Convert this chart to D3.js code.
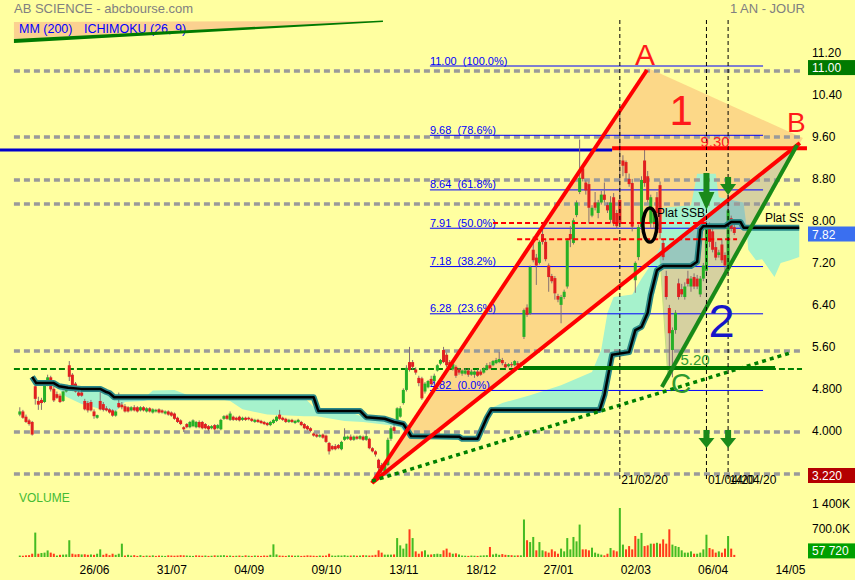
<!DOCTYPE html>
<html><head><meta charset="utf-8">
<script src="https://cdn.jsdelivr.net/npm/d3@7"></script>
<style>body{margin:0;background:#ffffa0;}svg{display:block;font-family:"Liberation Sans",Arial,sans-serif;}</style>
</head><body><svg id="c" width="855" height="580"></svg>
<script>
// ---------- DATA ----------
// daily candles [open, high, low, close]
const candles = [
[4.36,4.50,4.33,4.42],[4.42,4.45,4.28,4.30],[4.32,4.36,4.20,4.22],[4.25,4.28,4.15,4.18],[4.22,4.24,3.96,3.98],
[4.90,5.05,4.55,4.66],[4.62,4.70,4.45,4.55],[4.64,4.68,4.45,4.58],[4.60,4.95,4.58,4.92],[4.92,5.12,4.90,5.07],
[5.07,5.10,4.80,4.84],[4.85,4.90,4.60,4.63],[4.75,4.80,4.66,4.68],[4.72,4.76,4.58,4.60],[4.62,4.82,4.60,4.80],
[4.80,4.90,4.78,4.86],[5.30,5.38,5.00,5.08],[5.12,5.15,4.85,4.88],[4.95,4.98,4.78,4.80],[4.78,4.82,4.70,4.72],
[4.78,4.80,4.70,4.72],[4.62,4.66,4.44,4.46],[4.58,4.62,4.40,4.44],[4.60,4.64,4.42,4.44],[4.42,4.46,4.28,4.33],
[4.30,4.36,4.28,4.35],[4.62,4.80,4.44,4.46],[4.56,4.60,4.42,4.45],[4.48,4.52,4.42,4.44],[4.46,4.48,4.38,4.40],
[4.44,4.46,4.32,4.34],[4.34,4.44,4.32,4.42],[4.58,4.78,4.48,4.50],[4.55,4.60,4.46,4.50],[4.52,4.56,4.40,4.42],
[4.50,4.52,4.40,4.42],[4.44,4.52,4.42,4.50],[4.50,4.54,4.42,4.44],[4.50,4.52,4.40,4.42],[4.44,4.52,4.42,4.50],
[4.50,4.52,4.42,4.44],[4.42,4.50,4.40,4.48],[4.48,4.50,4.40,4.42],[4.40,4.48,4.38,4.46],[4.42,4.47,4.40,4.45],
[4.46,4.48,4.38,4.40],[4.44,4.46,4.38,4.40],[4.38,4.44,4.36,4.42],[4.42,4.44,4.34,4.36],[4.40,4.42,4.32,4.34],
[4.38,4.40,4.26,4.28],[4.30,4.32,4.20,4.22],[4.25,4.27,4.16,4.18],[4.12,4.14,4.03,4.08],[4.18,4.20,4.10,4.12],
[4.12,4.24,4.10,4.22],[4.14,4.27,4.12,4.25],[4.12,4.24,4.10,4.22],[4.22,4.25,4.10,4.12],[4.22,4.24,4.08,4.10],
[4.18,4.20,4.08,4.10],[4.14,4.16,4.05,4.08],[4.10,4.16,4.08,4.14],[4.16,4.18,4.06,4.08],[4.10,4.18,4.08,4.16],
[4.08,4.28,4.06,4.26],[4.28,4.35,4.26,4.33],[4.34,4.36,4.26,4.28],[4.26,4.42,4.24,4.38],[4.32,4.34,4.24,4.26],
[4.30,4.32,4.24,4.26],[4.32,4.34,4.23,4.25],[4.26,4.32,4.24,4.30],[4.30,4.32,4.24,4.26],[4.30,4.32,4.25,4.27],
[4.28,4.30,4.22,4.24],[4.22,4.28,4.20,4.26],[4.26,4.28,4.20,4.22],[4.24,4.26,4.18,4.20],[4.22,4.24,4.16,4.18],
[4.20,4.22,4.14,4.16],[4.16,4.24,4.14,4.22],[4.20,4.28,4.18,4.26],[4.24,4.34,4.22,4.32],[4.36,4.45,4.26,4.28],
[4.30,4.32,4.24,4.26],[4.28,4.30,4.20,4.22],[4.22,4.28,4.20,4.26],[4.26,4.28,4.20,4.22],[4.20,4.26,4.18,4.24],
[4.22,4.28,4.20,4.26],[4.22,4.24,4.14,4.16],[4.18,4.20,4.08,4.10],[4.14,4.16,4.06,4.08],[4.10,4.12,4.02,4.05],
[4.00,4.02,3.94,3.96],[3.98,4.00,3.92,3.94],[3.94,3.99,3.92,3.97],[3.98,4.00,3.90,3.92],[3.96,3.98,3.82,3.84],
[3.82,3.84,3.60,3.66],[3.76,3.78,3.68,3.70],[3.76,3.80,3.68,3.70],[3.78,3.80,3.70,3.72],[3.70,3.86,3.68,3.84],
[3.88,4.10,3.86,3.94],[3.90,3.96,3.88,3.94],[3.94,3.98,3.86,3.88],[3.88,3.96,3.86,3.94],[3.94,3.96,3.88,3.90],
[3.90,3.97,3.88,3.95],[3.94,3.96,3.86,3.88],[3.88,4.05,3.86,3.95],[3.90,3.92,3.70,3.72],[3.72,3.74,3.64,3.66],
[3.66,3.68,3.56,3.60],[3.50,3.52,3.26,3.34],[3.40,3.44,3.22,3.30],[3.28,3.44,3.26,3.40],[3.40,3.92,3.38,3.88],
[3.90,4.14,3.86,4.10],[4.12,4.16,4.00,4.05],[4.26,4.50,4.18,4.48],[4.32,4.52,4.30,4.48],[4.58,4.86,4.55,4.83],
[4.83,5.30,4.80,5.25],[5.36,5.65,5.18,5.21],[5.36,5.40,5.22,5.27],[5.22,5.26,5.12,5.16],[5.06,5.10,4.90,4.96],
[5.05,5.08,4.64,4.67],[4.80,4.98,4.76,4.95],[4.88,5.02,4.86,5.00],[5.04,5.10,4.92,4.94],[5.00,5.14,4.98,5.10],
[5.20,5.32,5.18,5.30],[5.33,5.42,5.30,5.40],[5.59,5.65,5.34,5.36],[5.50,5.54,5.26,5.30],[5.36,5.40,5.24,5.28],
[5.22,5.34,5.20,5.32],[5.27,5.30,5.06,5.10],[5.22,5.25,5.12,5.16],[5.14,5.22,5.10,5.20],[5.14,5.24,5.12,5.20],
[5.20,5.24,5.08,5.12],[5.12,5.22,5.10,5.18],[5.12,5.20,5.06,5.18],[5.18,5.22,5.08,5.10],[5.18,5.22,5.10,5.12],
[5.16,5.26,5.14,5.24],[5.22,5.34,5.20,5.30],[5.30,5.36,5.22,5.24],[5.30,5.40,5.28,5.38],[5.34,5.44,5.32,5.40],
[5.36,5.55,5.34,5.42],[5.40,5.44,5.30,5.34],[5.32,5.36,5.24,5.26],[5.28,5.34,5.26,5.32],[5.32,5.36,5.26,5.30],
[5.30,5.40,5.28,5.38],[5.34,5.38,5.26,5.30],[5.30,5.36,5.26,5.32],[5.84,6.38,5.80,6.35],[6.40,6.46,6.22,6.26],
[6.29,7.20,6.26,7.17],[7.50,7.75,7.26,7.30],[7.35,7.42,6.83,7.20],[7.25,7.68,7.22,7.65],[7.80,7.90,7.60,7.65],
[7.65,7.70,7.28,7.32],[7.20,7.24,6.70,6.98],[7.00,7.04,6.86,6.90],[6.96,7.00,6.55,6.67],[6.62,6.66,6.50,6.55],
[6.45,6.64,6.10,6.60],[6.60,6.74,6.56,6.70],[6.80,7.72,6.76,7.68],[7.80,7.95,7.55,7.70],[7.63,8.10,7.60,8.06],
[8.16,8.44,8.12,8.40],[8.60,9.60,8.56,8.87],[9.05,9.10,8.80,8.85],[8.78,8.82,8.55,8.63],[8.75,8.80,8.00,8.30],
[8.15,8.35,8.12,8.30],[8.40,8.60,8.25,8.30],[8.20,8.45,8.10,8.40],[8.40,8.62,8.36,8.55],[8.55,8.78,8.40,8.45],
[8.35,8.40,8.20,8.25],[8.07,8.52,8.00,8.40],[8.50,8.58,7.95,8.00],[8.20,8.26,7.90,7.95],[8.45,10.07,7.98,8.00],
[9.20,9.30,8.90,9.10],[9.17,9.20,8.80,8.96],[8.85,8.95,8.70,8.75],[8.77,8.85,7.85,7.94],[6.92,7.28,6.68,7.25],
[7.36,7.98,7.30,7.93],[7.93,8.90,7.88,8.83],[9.20,9.40,8.70,8.77],[8.90,9.00,8.40,8.45],[8.00,8.55,7.90,8.50],
[8.00,8.26,7.90,8.20],[8.50,8.60,8.15,8.20],[8.73,8.80,7.70,7.82],[7.63,7.70,7.30,7.36],[7.00,7.10,6.55,6.60],
[6.39,6.45,5.07,5.91],[5.59,6.02,5.07,5.97],[5.97,6.35,5.90,6.30],[6.86,6.95,6.55,6.60],[6.75,6.85,6.60,6.65],
[6.60,6.88,6.55,6.80],[6.95,7.10,6.80,6.85],[6.80,7.00,6.70,6.95],[6.98,7.05,6.75,6.80],[6.95,7.02,6.75,6.80],
[6.65,7.00,6.60,6.95],[6.95,7.25,6.90,7.20],[7.10,8.05,7.05,8.00],[7.96,8.02,7.55,7.65],[7.85,7.92,7.45,7.50],
[7.55,7.65,7.30,7.35],[7.40,7.50,7.35,7.45],[7.60,7.70,7.25,7.30],[7.40,7.45,7.10,7.20],[7.17,8.60,7.12,8.25],
[8.10,8.15,7.85,7.90],[7.93,8.00,7.78,7.82]
];
// daily volumes, thousands of shares
const volumesK = [
40,35,45,50,90,670,90,110,120,180, 120,90,40,60,65,70,460,90,70,80,
70,75,60,70,60,90,210,60,90,50, 90,60,90,366,40,60,40,50,30,50,
30,40,35,45,30,40,35,30,45,40, 35,40,50,45,40,35,30,45,40,35,
40,30,35,45,40,45,50,35,40,30, 35,40,30,45,35,30,40,35,30,40,
35,60,348,70,40,35,30,45,40,35, 40,30,35,45,40,35,30,40,35,40,
90,40,35,45,40,50,35,40,45,35, 40,50,45,40,45,60,183,120,65,65,
65,70,520,320,230,366,760,520,155,90, 155,183,65,70,80,90,80,183,230,120,
90,100,70,40,35,30,40,35,30,40, 45,50,275,70,90,60,80,60,55,50,
40,45,45, 1030,460,410,550,183,410,183,155,
120,210,155,90,230,155,520,210,550,430, 890,210,210,183,256,120,90,65,45,90,
247,183,155,1345,340,210,300,210,576,500, 660,300,320,366,366,390,366,485,366,760,
340,300,275,183,120,120,155,90,90,120, 210,612,247,210,120,155,120,230,576,230,
57.72
];
const dateTickIndex = [24,49,74,99,124,149,174,199,224,249];
const dateTickLabels = ["26/06","31/07","04/09","09/10","13/11","18/12","27/01","02/03","06/04","14/05"];
const priceTicks = [11.2,10.4,9.6,8.8,8.0,7.2,6.4,5.6,4.8,4.0];
const priceTickLabels = ["11.20","10.40","9.60","8.80","8.00","7.20","6.40","5.60","4.800","4.000"];
const volTicks = [1400000,700000];
const volTickLabels = ["1 400K","700.0K"];
const fibLevels = [11.00,9.68,8.64,7.91,7.18,6.28,4.82];
const fibPct = ["100.0%","78.6%","61.8%","50.0%","38.2%","23.6%","0.0%"];
const fibSpan = [132.6,240.3];
const grayLevels = [10.905,9.648,8.829,8.371,5.571,4.029,3.229];
const hSpan = [-1.9,252.9];
const greenDashLevel = 5.23;
// Ichimoku: thick line (SSB) knots [dayIndex, price]
const ssb = [[4,5.08],[5.3,4.96],[11,4.96],[12.7,4.90],[15.6,4.87],[19.8,4.85],[26,4.85],[28,4.79],[29,4.77],[30.5,4.69],
[95,4.69],[96.5,4.43],[110,4.43],[112,4.31],[118,4.28],[121,4.22],[124,4.18],[125.5,4.05],[126.5,3.95],[142,3.94],
[143,3.90],[148,3.90],[151,4.30],[152.5,4.45],[187.5,4.45],[189,4.73],[191.5,5.50],[197,5.55],[199,5.97],[201,6.03],
[203,6.30],[204,6.64],[206,7.11],[208,7.19],[217,7.19],[219,7.27],[220,7.88],[221,7.95],[228,7.95],[230,8.03],
[233,8.03],[234,7.92],[252,7.92]];
// Ichimoku cloud knots [dayIndex, upper, lower]
const cloud = [[12,4.90,4.88],[15,4.88,4.70],[20,4.86,4.56],[24,4.80,4.50],[27,4.78,4.45],[31,4.72,4.42],[34,4.68,4.60],
[40,4.66,4.62],[43,4.82,4.66],[50,4.83,4.64],[54,4.74,4.66],[62,4.72,4.68],[68,4.72,4.62],[72,4.71,4.46],[80,4.70,4.36],
[92,4.68,4.33],[96,4.45,4.33],[105,4.44,4.24],[111,4.32,4.22],[119,4.28,4.16],[123,4.20,4.12],[126,3.96,3.92],
[147,3.90,3.86],[150,4.20,4.10],[153,4.50,4.42],[156,4.58,4.45],[165,4.73,4.45],[175,4.92,4.45],[185,5.17,4.45],
[188,5.60,4.45],[190,6.30,4.80],[192,6.60,5.50],[198,6.65,5.60],[201,6.95,6.03],[205,7.30,6.64],[207,7.55,7.15],
[208,8.30,7.19],[217,8.35,7.19],[219,8.95,7.27],[220,8.95,7.88],[225,8.95,7.95],[226,8.50,7.95],[234,8.40,7.92],
[235,7.92,7.92],[235.5,7.92,7.50],[238,7.92,7.30],[240,7.92,7.32],[244,7.92,6.98],[246,7.92,7.25],[249,7.92,7.30],[252,7.92,7.36]];
// hand-drawn annotations, in [dayIndex, price]
const legendTri = [[-1.9,11.838],[117.4,11.857],[-1.9,11.476]];
const legendWedge = [[-1.9,11.514],[117.4,11.867],[117.4,11.838],[-1.9,11.438]];
const peachTri = [[113.87,3.057],[203.1,10.962],[253.2,9.629],[252.2,9.533]];
const lineA = [[113.87,3.057],[202.78,10.924]];
const lineB = [[113.87,3.057],[252.2,9.533]];
const line930 = [[191.5,9.432],[254.5,9.432]];
const blueLine = [[-6.4,9.40],[191.5,9.40]];
const redDash1 = [[153.0,8.01],[222.2,8.01]];
const redDash2 = [[160.8,7.70],[231.9,7.70]];
const green520 = [[162.7,5.248],[244.2,5.248]];
const greenDotted = [[113.87,3.095],[249.0,5.533]];
const lineCB = [[207.6,4.886],[251.3,9.495]];
const khakiTri = [[206.9,7.438],[209.6,5.019],[252.2,9.533]];
const ellipse0 = [203.7,7.971];
const markerIdx = [194,222,229];
const markerLabels = ["21/02/20","01/04/20","14/04/20"];
const arrowsDown = [[222,8.962,8.60,8.257],[229,8.886,8.752,8.543],[222,4.067,3.914,3.724],[229,4.067,3.914,3.724]];
const labels = [
 {t:"A",i:202.1,v:11.019,size:30,fill:"#ff1a1a",anchor:"middle"},
 {t:"B",i:251.1,v:9.743,size:28,fill:"#ff1a1a",anchor:"middle"},
 {t:"1",i:213.8,v:9.876,size:42,fill:"#ff1a1a",anchor:"middle"},
 {t:"2",i:226.9,v:5.838,size:47,fill:"#1515c8",anchor:"middle"},
 {t:"C",i:213.8,v:4.771,size:28,fill:"#2e9a2e",anchor:"middle"},
 {t:"9.30",i:224.8,v:9.457,size:15,fill:"#ff2020",anchor:"middle"},
 {t:"5.20",i:218.3,v:5.305,size:15,fill:"#2e9a2e",anchor:"middle"},
 {t:"Plat SSB",i:206.0,v:8.124,size:12,fill:"#000",anchor:"start"},
 {t:"Plat SSB",i:240.9,v:8.029,size:12,fill:"#000",anchor:"start",clip:true}
];
const badges = [{t:"11.00",v:10.97,fill:"#007a00"},{t:"7.82",v:7.80,fill:"#3a6ff0"},{t:"3.220",v:3.20,fill:"#b40000"}];
const lastVolume = 57720;

// ---------- CHART ----------
const W=855,H=580;
const svg=d3.select("#c");
const x=d3.scaleLinear().domain([0,249]).range([19.8,19.8+3.093*249]);
const y=d3.scaleLinear().domain([4,11.2]).range([433.5,55.5]);
const yv=d3.scaleLinear().domain([0,1400000]).range([557,506]);
const ln=d3.line().x(d=>x(d[0])).y(d=>y(d[1]));
const PLOT_TOP=20, PLOT_BOTTOM=480;

svg.append("defs").append("clipPath").attr("id","clipR").append("rect").attr("x",0).attr("y",0).attr("width",803).attr("height",H);
svg.append("rect").attr("width",W).attr("height",H).attr("fill","#ffffa0");

// header
svg.append("text").attr("x",14).attr("y",13).attr("font-size",13).attr("fill","#808080").text("AB SCIENCE - abcbourse.com");
svg.append("text").attr("x",805).attr("y",13).attr("font-size",13).attr("fill","#808080").attr("text-anchor","end").text("1 AN - JOUR");
svg.append("path").attr("d",ln(legendTri)+"Z").attr("fill","#fbd190");
svg.append("text").attr("x",19).attr("y",33).attr("font-size",12.5).attr("fill","#0000ff").text("MM (200)");
svg.append("text").attr("x",84).attr("y",33).attr("font-size",12.5).attr("fill","#0000ff").text("ICHIMOKU (26, 9)");
svg.append("path").attr("d",ln(legendWedge)+"Z").attr("fill","#007a00");

// peach triangle
svg.append("path").attr("d",ln(peachTri)+"Z").attr("fill","#f9a86a").attr("opacity",0.45);

// cloud
const area=d3.area().x(d=>x(d[0])).y0(d=>y(d[2])).y1(d=>y(d[1]));
svg.append("path").attr("d",area(cloud)).attr("fill","#a6f2cc");

// khaki triangle 2
svg.append("path").attr("d",ln(khakiTri)+"Z").attr("fill","#7a6aa0").attr("opacity",0.3).attr("stroke","#3a9a3a").attr("stroke-width",1);

// gray dotted levels
grayLevels.forEach(v=>{
  svg.append("path").attr("d",ln([[hSpan[0],v],[hSpan[1],v]])).attr("stroke","#9a9a9a").attr("stroke-width",3.5).attr("stroke-dasharray","6,4").attr("fill","none");
});
svg.append("path").attr("d",ln([[hSpan[0],greenDashLevel],[hSpan[1],greenDashLevel]])).attr("stroke","#008000").attr("stroke-width",2).attr("stroke-dasharray","6,3").attr("fill","none");

// fib lines
fibLevels.forEach((v,k)=>{
  svg.append("path").attr("d",ln([[fibSpan[0],v],[fibSpan[1],v]])).attr("stroke","#0000ff").attr("stroke-width",1).attr("fill","none");
  svg.append("text").attr("x",x(fibSpan[0])).attr("y",y(v)-1.5).attr("font-size",11).attr("fill","#0000ff")
    .style("white-space","pre").text(v.toFixed(2)+"  ("+fibPct[k]+")");
});

// blue thick line
svg.append("path").attr("d",ln(blueLine)).attr("stroke","#0000cc").attr("stroke-width",3).attr("fill","none");

// candles
const cg=svg.append("g");
candles.forEach((c,i)=>{
  const [o,h,l,cl]=c;
  const up=cl>=o;
  cg.append("line").attr("x1",x(i)).attr("x2",x(i)).attr("y1",y(h)).attr("y2",y(l)).attr("stroke","#857070").attr("stroke-width",1);
  const yt=y(Math.max(o,cl)), yb=y(Math.min(o,cl));
  cg.append("rect").attr("x",x(i)-1.5).attr("width",3).attr("y",yt).attr("height",Math.max(1,yb-yt))
    .attr("fill",up?"#26b026":"#e02020");
});

// SSB thick line
svg.append("path").attr("d",ln(ssb)).attr("stroke","#2a8888").attr("stroke-width",6).attr("fill","none").attr("stroke-linejoin","round");
svg.append("path").attr("d",ln(ssb)).attr("stroke","#000").attr("stroke-width",2.5).attr("fill","none").attr("stroke-linejoin","round");

// red dashed
[redDash1,redDash2].forEach(d=>svg.append("path").attr("d",ln(d)).attr("stroke","#ff0000").attr("stroke-width",2).attr("stroke-dasharray","5,3").attr("fill","none"));

// red lines
[lineA,lineB,line930].forEach(d=>svg.append("path").attr("d",ln(d)).attr("stroke","#ff0000").attr("stroke-width",4).attr("fill","none"));

// green lines
svg.append("path").attr("d",ln(greenDotted)).attr("stroke","#008000").attr("stroke-width",3.5).attr("stroke-dasharray","4,4").attr("fill","none");
svg.append("path").attr("d",ln(green520)).attr("stroke","#007a00").attr("stroke-width",4).attr("fill","none");
svg.append("path").attr("d",ln(lineCB)).attr("stroke","#188a18").attr("stroke-width",4).attr("fill","none");

// vertical date markers
markerIdx.forEach((i,k)=>{
  svg.append("line").attr("x1",x(i)).attr("x2",x(i)).attr("y1",PLOT_TOP).attr("y2",PLOT_BOTTOM).attr("stroke","#000").attr("stroke-width",1).attr("stroke-dasharray","4,3");
  svg.append("text").attr("x",x(i)+1.5).attr("y",PLOT_BOTTOM+4).attr("font-size",12).attr("fill","#000").text(markerLabels[k]);
});

// arrows
arrowsDown.forEach(a=>{
  const [i,vt,vb,vtip]=a, cx=x(i);
  svg.append("rect").attr("x",cx-3).attr("width",6).attr("y",y(vt)).attr("height",y(vb)-y(vt)+1).attr("fill","#1a8a1a");
  svg.append("path").attr("d",`M${cx-8},${y(vb)}L${cx+8},${y(vb)}L${cx},${y(vtip)}Z`).attr("fill","#1a8a1a");
});

// ellipse "0"
svg.append("ellipse").attr("cx",x(ellipse0[0])).attr("cy",y(ellipse0[1])).attr("rx",7).attr("ry",17).attr("fill","none").attr("stroke","#000").attr("stroke-width",3.5);

// labels
labels.forEach(L=>{
  const t=svg.append("text").attr("x",x(L.i)).attr("y",y(L.v)).attr("font-size",L.size).attr("fill",L.fill).attr("text-anchor",L.anchor).text(L.t);
  if(L.clip) t.attr("clip-path","url(#clipR)");
});

// volume
svg.append("text").attr("x",19).attr("y",502).attr("font-size",12).attr("fill","#44bb33").text("VOLUME");
volumesK.forEach((vk,i)=>{
  const v=vk*1000;
  const up = i===0 ? candles[0][3]>=candles[0][0] : candles[i][3]>=candles[i-1][3];
  svg.append("rect").attr("x",x(i)-1).attr("width",2).attr("y",yv(v)).attr("height",yv(0)-yv(v)).attr("fill",up?"#44bb22":"#ff3a1a");
});

// right price axis
const ax=d3.axisRight(y).tickValues(priceTicks).tickFormat((d,k)=>priceTickLabels[k]).tickSize(0).tickPadding(4);
const gA=svg.append("g").attr("transform","translate(808,0)").call(ax);
gA.select(".domain").remove();
gA.selectAll("text").attr("font-size",12).attr("fill","#000").attr("dy","0.11em").style("font-family","'Liberation Sans',Arial,sans-serif");

const axv=d3.axisRight(yv).tickValues(volTicks).tickFormat((d,k)=>volTickLabels[k]).tickSize(0).tickPadding(4);
const gV=svg.append("g").attr("transform","translate(808,0)").call(axv);
gV.select(".domain").remove();
gV.selectAll("text").attr("font-size",12).attr("fill","#000").attr("dy","0.11em").style("font-family","'Liberation Sans',Arial,sans-serif");

// badges
badges.forEach(b=>{
  const cy=y(b.v);
  svg.append("rect").attr("x",808).attr("y",cy-7.5).attr("width",47).attr("height",15).attr("fill",b.fill);
  svg.append("text").attr("x",812).attr("y",cy+4.5).attr("font-size",12).attr("fill","#fff").text(b.t);
});
{
  const cy=yv(lastVolume)-4;
  svg.append("rect").attr("x",808).attr("y",cy-7.5).attr("width",47).attr("height",15).attr("fill","#00a000");
  svg.append("text").attr("x",812).attr("y",cy+4.5).attr("font-size",12).attr("fill","#fff").text("57 720");
}

// bottom date axis
const axb=d3.axisBottom(x).tickValues(dateTickIndex).tickFormat((d,k)=>dateTickLabels[k]).tickSize(0).tickPadding(3);
const gB=svg.append("g").attr("transform","translate(0,562)").call(axb);
gB.select(".domain").remove();
gB.selectAll("text").attr("font-size",12).attr("fill","#000").style("font-family","'Liberation Sans',Arial,sans-serif");

if(candles.length!==volumesK.length) console.error("length mismatch",candles.length,volumesK.length);
</script></body></html>
